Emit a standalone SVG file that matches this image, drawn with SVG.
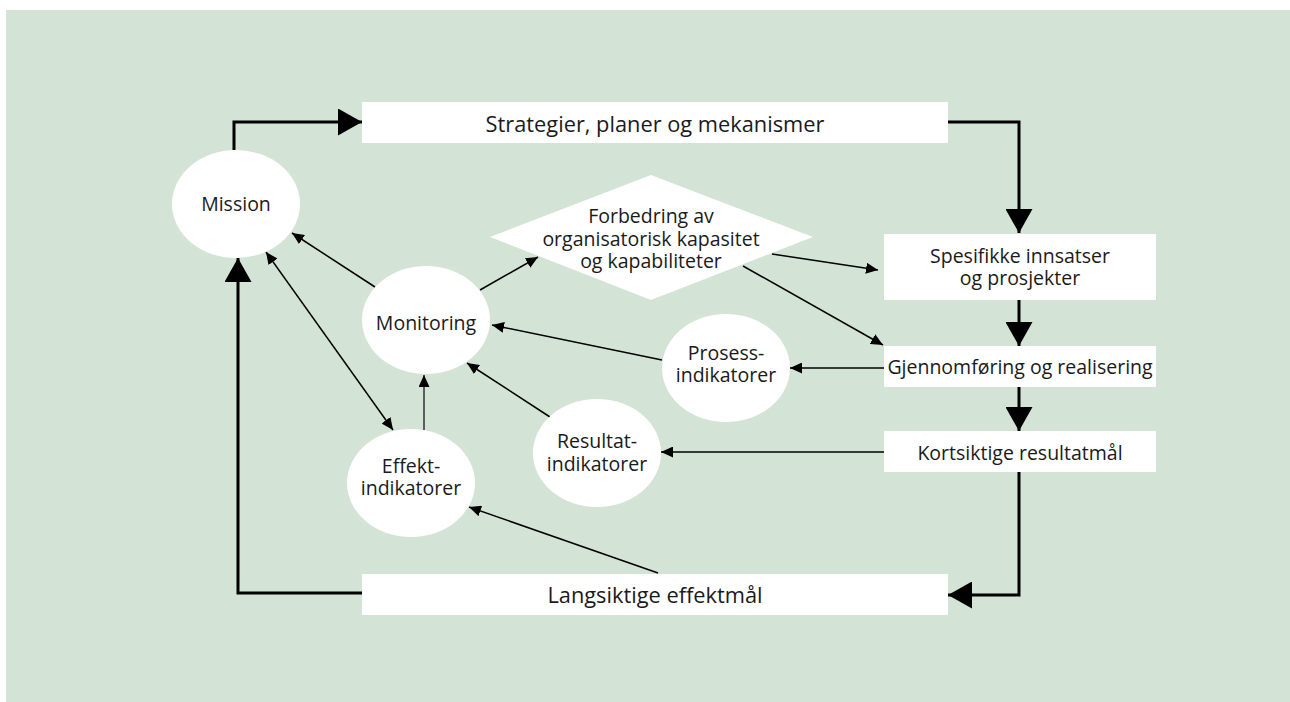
<svg xmlns="http://www.w3.org/2000/svg" width="1290" height="702" viewBox="0 0 1290 702">
<style>
.bg{fill:#d3e3d5}
.n{fill:#fff}
.t{font-family:"Open Sans","Noto Sans",sans-serif;font-size:19.5px;fill:#1a1a1a;text-anchor:middle;dominant-baseline:central}
.tl{font-size:21.8px}
.thick{fill:none;stroke:#000;stroke-width:3;marker-end:url(#ah)}
.thin{fill:none;stroke:#000;stroke-width:1.5;marker-end:url(#as)}
</style>
<defs>
<marker id="ah" markerUnits="userSpaceOnUse" markerWidth="24" markerHeight="27" viewBox="0 0 24 27" refX="24" refY="13.5" orient="auto"><path d="M0,0 L24,13.5 L0,27 Z" fill="#000"/></marker>
<marker id="as" markerUnits="userSpaceOnUse" markerWidth="12" markerHeight="11" viewBox="0 0 12 11" refX="12" refY="5.5" orient="auto-start-reverse"><path d="M0,0 L12,5.5 L0,11 Z" fill="#000"/></marker>
</defs>
<rect class="bg" x="6" y="10" width="1284" height="692"/>
<g id="connectors">
<path class="thick" d="M234,150 V122 H362"/>
<path class="thick" d="M948,122 H1019 V233"/>
<path class="thick" d="M1019,300 V346"/>
<path class="thick" d="M1019,387 V431"/>
<path class="thick" d="M1019,472 V595 H948"/>
<path class="thick" d="M362,593 H238 V258"/>
<path class="thin" d="M375,287 L292,233"/>
<path class="thin" d="M266,252 L393,430" marker-start="url(#as)"/>
<path class="thin" d="M480,290 L538,257"/>
<path class="thin" d="M772,254 L878,270"/>
<path class="thin" d="M743,266 L883,345"/>
<path class="thin" d="M884,368 L790,368"/>
<path class="thin" d="M662,360 L492,325"/>
<path class="thin" d="M550,417 L467,363"/>
<path class="thin" d="M884,452 L661,452"/>
<path class="thin" d="M424,430 L424,375" style="stroke:#333"/>
<path class="thin" d="M658,573 L469,507"/>
</g>
<g id="strategier"><rect class="n" x="362" y="102" width="586" height="41"/><text class="t tl" x="655" y="123">Strategier, planer og mekanismer</text></g>
<g id="spesifikke"><rect class="n" x="884" y="234" width="272" height="66"/><text class="t"><tspan x="1020" y="255">Spesifikke innsatser</tspan><tspan x="1020" y="277">og prosjekter</tspan></text></g>
<g id="gjennomforing"><rect class="n" x="884" y="346" width="272" height="41"/><text class="t" x="1020" y="366">Gjennomføring og realisering</text></g>
<g id="kortsiktige"><rect class="n" x="884" y="431" width="272" height="41"/><text class="t" x="1020" y="452">Kortsiktige resultatmål</text></g>
<g id="langsiktige"><rect class="n" x="362" y="574" width="586" height="41"/><text class="t tl" x="655" y="594">Langsiktige effektmål</text></g>
<g id="mission"><ellipse class="n" cx="236" cy="204" rx="64" ry="54"/><text class="t" x="236" y="203">Mission</text></g>
<g id="monitoring"><ellipse class="n" cx="426" cy="320" rx="64" ry="54"/><text class="t" x="426" y="322">Monitoring</text></g>
<g id="forbedring"><polygon class="n" points="490,237 651,175 813,237 651,300"/><text class="t"><tspan x="651" y="215">Forbedring av</tspan><tspan x="651" y="238">organisatorisk kapasitet</tspan><tspan x="651" y="260">og kapabiliteter</tspan></text></g>
<g id="prosess"><ellipse class="n" cx="726" cy="368" rx="64" ry="54"/><text class="t"><tspan x="726" y="352">Prosess-</tspan><tspan x="726" y="374">indikatorer</tspan></text></g>
<g id="resultat"><ellipse class="n" cx="597" cy="453" rx="64" ry="54"/><text class="t"><tspan x="597" y="440">Resultat-</tspan><tspan x="597" y="463">indikatorer</tspan></text></g>
<g id="effekt"><ellipse class="n" cx="411" cy="483" rx="64" ry="54"/><text class="t"><tspan x="411" y="465">Effekt-</tspan><tspan x="411" y="487">indikatorer</tspan></text></g>
</svg>
